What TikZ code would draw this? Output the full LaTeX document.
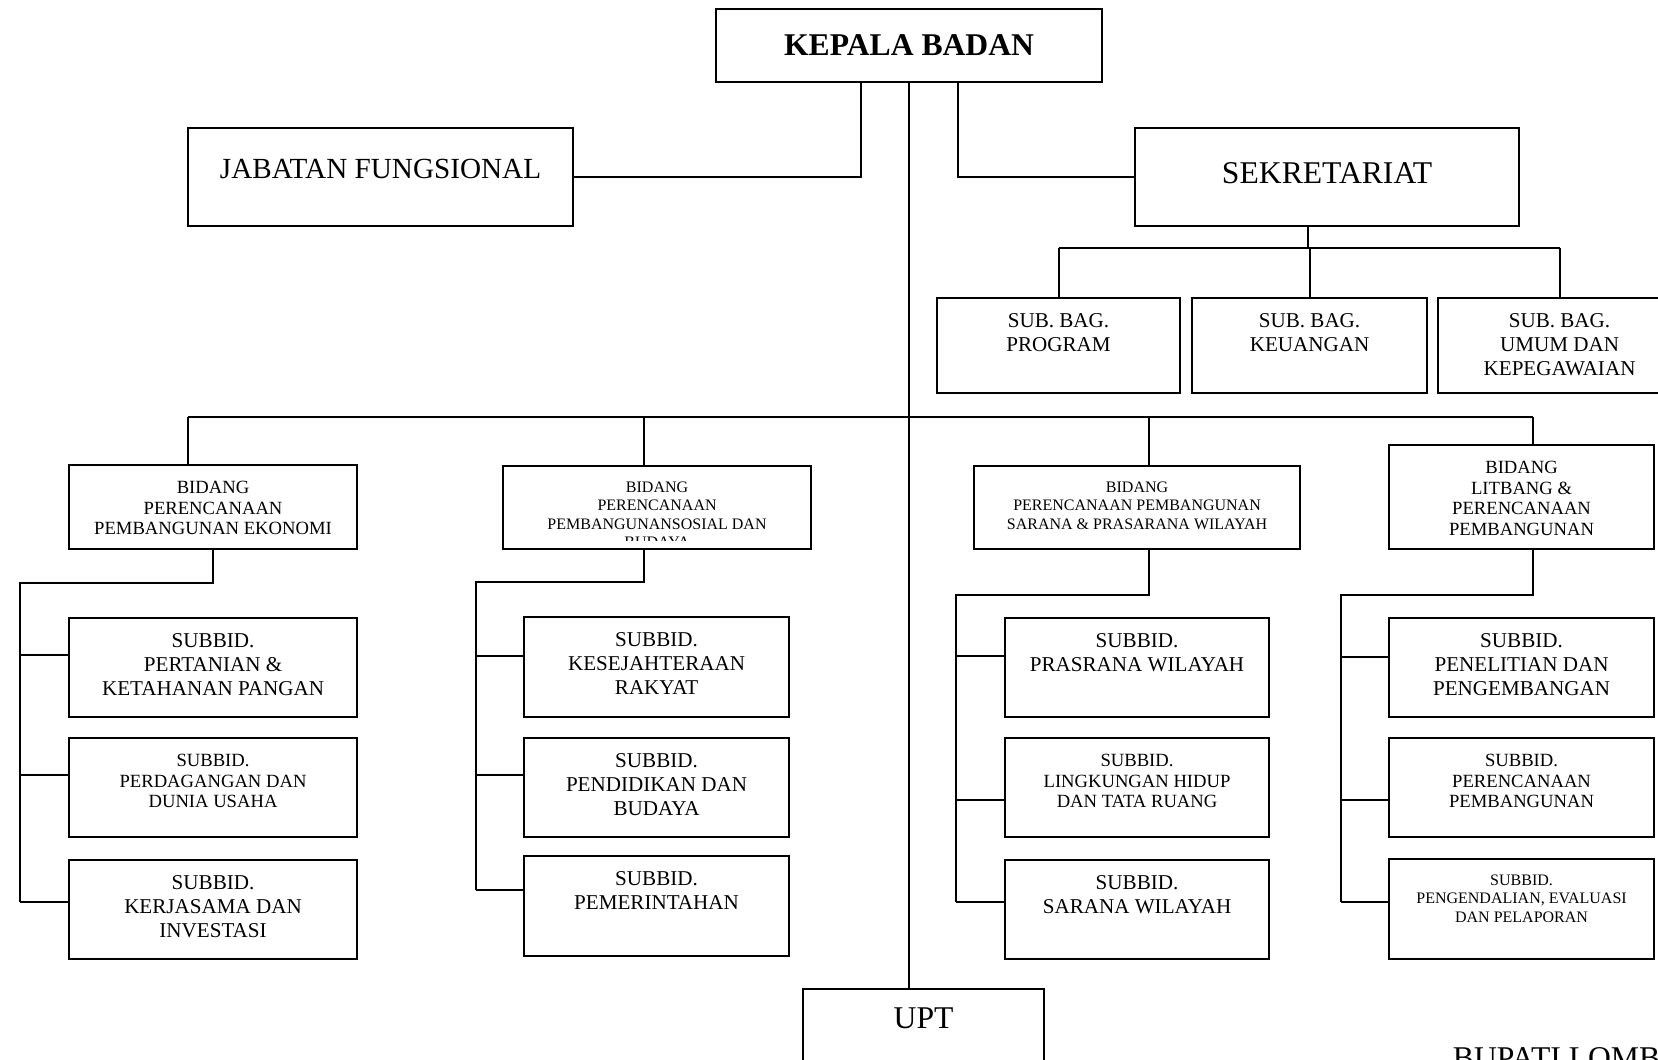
\documentclass[tikz,border=0pt]{standalone}
\usepackage{fontspec}
\setmainfont{Liberation Serif}

\newcommand\orgbig{\fontsize{9}{10.4}\selectfont}
\newcommand\orgjab{\fontsize{8.3}{9.6}\selectfont}
\newcommand\orgsub{\fontsize{6}{6.7}\selectfont}
\newcommand\orgmid{\fontsize{5.3}{5.9}\selectfont}
\newcommand\orgtiny{\fontsize{4.55}{5.2}\selectfont}

\begin{document}
\begin{tikzpicture}
[
  x=0.01cm, y=-0.01cm,
  line width=0.55pt,
  box/.style={rectangle, draw, inner sep=0pt, anchor=north west},
  lbl/.style={anchor=north, align=center, inner sep=0pt, yshift=-0.16cm},
  lsub/.style={lbl, font=\orgsub},
  lmid/.style={lbl, font=\orgmid},
  ltiny/.style={lbl, font=\orgtiny}
]
 \useasboundingbox (0,0) rectangle (1658,1059);

 % pimpinan
 \node[box, minimum width=3.86cm, minimum height=0.73cm, font=\bfseries\orgbig] (kb) at (715,8) {KEPALA BADAN};
 \node[box, minimum width=3.85cm, minimum height=0.98cm, text depth=0.16cm, font=\orgjab] (jf) at (187,127) {JABATAN FUNGSIONAL};
 \node[box, minimum width=3.84cm, minimum height=0.98cm, text depth=0.08cm, font=\orgbig] (sek) at (1134,127) {SEKRETARIAT};

 % sub bagian
 \node[box, minimum width=2.43cm, minimum height=0.95cm, label={[lsub]north:{SUB. BAG.\\PROGRAM}}] (sbp) at (936,297) {};
 \node[box, minimum width=2.35cm, minimum height=0.95cm, label={[lsub]north:{SUB. BAG.\\KEUANGAN}}] (sbk) at (1191,297) {};
 \node[box, minimum width=2.43cm, minimum height=0.95cm, label={[lsub]north:{SUB. BAG.\\UMUM DAN\\KEPEGAWAIAN}}] (sbu) at (1437,297) {};

 % bidang
 \node[box, minimum width=2.88cm, minimum height=0.84cm, label={[lmid]north:{BIDANG\\PERENCANAAN\\PEMBANGUNAN EKONOMI}}] (b1) at (68,464) {};
 \node[box, minimum width=3.08cm, minimum height=0.83cm] (b2) at (502,465) {};
 \node[box, minimum width=3.26cm, minimum height=0.83cm, label={[ltiny]north:{BIDANG\\PERENCANAAN PEMBANGUNAN\\SARANA \& PRASARANA WILAYAH}}] (b3) at (973,465) {};
 \node[box, minimum width=2.65cm, minimum height=1.04cm, label={[lmid]north:{BIDANG\\LITBANG \&\\PERENCANAAN\\PEMBANGUNAN}}] (b4) at (1388,444) {};
 \begin{scope}
  \clip (b2.north west) rectangle ([yshift=0.1cm]b2.south east);
  \node[ltiny] (b2t) at (b2.north) {BIDANG\\PERENCANAAN\\PEMBANGUNANSOSIAL DAN\\BUDAYA};
 \end{scope}

 % subbidang ekonomi
 \node[box, minimum width=2.88cm, minimum height=0.99cm, label={[lsub]north:{SUBBID.\\PERTANIAN \&\\KETAHANAN PANGAN}}] (e1) at (68,617) {};
 \node[box, minimum width=2.88cm, minimum height=0.99cm, label={[lmid]north:{SUBBID.\\PERDAGANGAN DAN\\DUNIA USAHA}}] (e2) at (68,737) {};
 \node[box, minimum width=2.88cm, minimum height=0.99cm, label={[lsub]north:{SUBBID.\\KERJASAMA DAN\\INVESTASI}}] (e3) at (68,859) {};

 % subbidang sosial budaya
 \node[box, minimum width=2.65cm, minimum height=1.0cm, label={[lsub]north:{SUBBID.\\KESEJAHTERAAN\\RAKYAT}}] (s1) at (523,616) {};
 \node[box, minimum width=2.65cm, minimum height=0.99cm, label={[lsub]north:{SUBBID.\\PENDIDIKAN DAN\\BUDAYA}}] (s2) at (523,737) {};
 \node[box, minimum width=2.65cm, minimum height=1.0cm, label={[lsub]north:{SUBBID.\\PEMERINTAHAN}}] (s3) at (523,855) {};

 % subbidang sarana prasarana
 \node[box, minimum width=2.64cm, minimum height=0.99cm, label={[lsub]north:{SUBBID.\\PRASRANA WILAYAH}}] (p1) at (1004,617) {};
 \node[box, minimum width=2.64cm, minimum height=0.99cm, label={[lmid]north:{SUBBID.\\LINGKUNGAN HIDUP\\DAN TATA RUANG}}] (p2) at (1004,737) {};
 \node[box, minimum width=2.64cm, minimum height=0.99cm, label={[lsub]north:{SUBBID.\\SARANA WILAYAH}}] (p3) at (1004,859) {};

 % subbidang litbang
 \node[box, minimum width=2.65cm, minimum height=0.99cm, label={[lsub]north:{SUBBID.\\PENELITIAN DAN\\PENGEMBANGAN}}] (l1) at (1388,617) {};
 \node[box, minimum width=2.65cm, minimum height=0.99cm, label={[lmid]north:{SUBBID.\\PERENCANAAN\\PEMBANGUNAN}}] (l2) at (1388,737) {};
 \node[box, minimum width=2.65cm, minimum height=1.0cm, label={[ltiny]north:{SUBBID.\\PENGENDALIAN, EVALUASI\\DAN PELAPORAN}}] (l3) at (1388,858) {};

 % upt
 \node[box, minimum width=2.41cm, minimum height=1.0cm, label={[lbl, yshift=-0.03cm, font=\orgbig]north:UPT}] (upt) at (802,988) {};
 \node[anchor=north west, inner sep=0pt, font=\orgbig] (bup) at (1452,1047) {BUPATI LOMB};

 % garis komando
 \draw (kb.south) -- (kb.south |- upt.north);
 \draw ([xshift=-0.48cm]kb.south) |- (jf.east);
 \draw ([xshift=0.49cm]kb.south) |- (sek.west);
 \draw (1308,0 |- sek.south) -- (1308,248);
 \draw (sbp.north |- 0,248) -- (sbu.north |- 0,248);
 \foreach \n in {sbp,sbk,sbu}
  \draw (\n.north |- 0,248) -- (\n.north);

 \draw (188,417) -- (1533,417);
 \foreach \x/\n in {188/b1, 644/b2, 1149/b3, 1533/b4}
  \draw (\x,417) -- (\x,0 |- \n.north);

 \draw (b1.south) -- (b1.south |- 0,583) -| (20,902);
 \foreach \n/\y in {e1/655, e2/775, e3/902}
  \draw (20,\y) -- (\n.west |- 0,\y);
 \draw (644,0 |- b2.south) -- (644,582) -| (476,890);
 \foreach \n/\y in {s1/656, s2/775, s3/890}
  \draw (476,\y) -- (\n.west |- 0,\y);
 \draw (1149,0 |- b3.south) -- (1149,595) -| (956,902);
 \foreach \n/\y in {p1/656, p2/800, p3/902}
  \draw (956,\y) -- (\n.west |- 0,\y);
 \draw (1533,0 |- b4.south) -- (1533,595) -| (1341,902);
 \foreach \n/\y in {l1/657, l2/800, l3/902}
  \draw (1341,\y) -- (\n.west |- 0,\y);
\end{tikzpicture}
\end{document}
